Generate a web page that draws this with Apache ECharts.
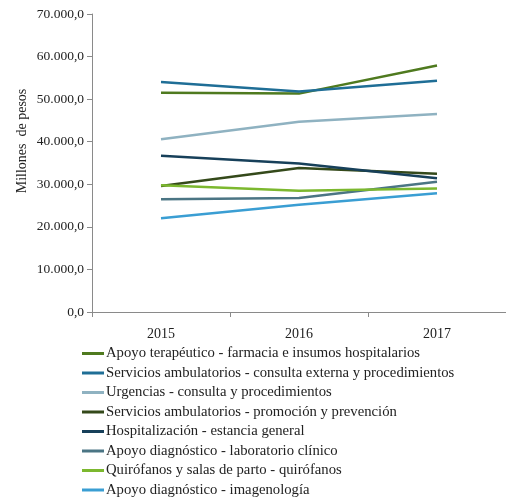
<!DOCTYPE html>
<html><head><meta charset="utf-8">
<script src="https://cdn.jsdelivr.net/npm/echarts@6/dist/echarts.min.js"></script>
<style>html,body{margin:0;padding:0;background:#fff}#c{width:506px;height:501px}</style>
</head><body><div id="c"></div>
<script>
const years = ['2015', '2016', '2017'];
const seriesNames = [
  'Apoyo terapéutico - farmacia e insumos hospitalarios',
  'Servicios ambulatorios - consulta externa y procedimientos',
  'Urgencias - consulta y procedimientos',
  'Servicios ambulatorios - promoción y prevención',
  'Hospitalización - estancia general',
  'Apoyo diagnóstico - laboratorio clínico',
  'Quirófanos y salas de parto - quirófanos',
  'Apoyo diagnóstico - imagenología'
];
const farmacia = [51500, 51300, 57900];
const consultaExterna = [54000, 51800, 54300];
const urgencias = [40600, 44700, 46500];
const promocion = [29600, 33800, 32500];
const hospitalizacion = [36700, 34900, 31400];
const laboratorio = [26500, 26800, 30600];
const quirofanos = [29800, 28500, 29000];
const imagenologia = [22000, 25200, 27900];
const yTicks = [0, 10000, 20000, 30000, 40000, 50000, 60000, 70000];
const yTitle = 'Millones  de pesos';

const allData = [farmacia, consultaExterna, urgencias, promocion, hospitalizacion, laboratorio, quirofanos, imagenologia];
const colors = ['#4f7a1f', '#1f6e96', '#8fb2c1', '#34491a', '#17405a', '#4b7584', '#7cb82f', '#3a9ed3'];

function fmt(v){
  const s = Math.round(v).toString().replace(/\B(?=(\d{3})+(?!\d))/g, '.');
  return s + ',0';
}

const chart = echarts.init(document.getElementById('c'), null, {renderer:'canvas'});
chart.setOption({
  animation: false,
  color: colors,
  textStyle: {fontFamily: 'Liberation Serif'},
  grid: {left: 92, right: -3, top: 14, bottom: 189},
  legend: {
    orient: 'vertical', left: 82, top: 346, padding: 0, height: 170,
    itemWidth: 22, itemHeight: 3, itemGap: 4.5, icon: 'rect',
    textStyle: {fontFamily: 'Liberation Serif', fontSize: 14.7, color: '#222', padding: [0,0,0,-3]},
    data: seriesNames
  },
  graphic: [{
    type: 'text', x: 22, y: 141, rotation: Math.PI / 2,
    style: {text: yTitle, fontFamily: 'Liberation Serif', fontSize: 14, fill: '#222', align: 'center', verticalAlign: 'middle'}
  }],
  xAxis: {
    type: 'category', data: years, boundaryGap: true,
    axisLine: {lineStyle: {color: '#8a8a8a'}},
    axisTick: {show: true, length: 5, lineStyle: {color: '#8a8a8a'}},
    axisLabel: {fontFamily: 'Liberation Serif', fontSize: 14, color: '#222', margin: 15}
  },
  yAxis: {
    type: 'value', min: yTicks[0], max: yTicks[yTicks.length-1], interval: 10000,
    axisLine: {show: true, lineStyle: {color: '#8a8a8a'}},
    axisTick: {show: true, length: 5, inside: false, lineStyle: {color: '#8a8a8a'}},
    splitLine: {show: false},
    axisLabel: {fontFamily: 'Liberation Serif', fontSize: 13.5, color: '#222', margin: 8, formatter: fmt}
  },
  series: seriesNames.map((n, i) => ({
    name: n, type: 'line', data: allData[i], symbol: 'none',
    lineStyle: {width: 2.5, color: colors[i]}, itemStyle: {color: colors[i]}
  }))
});
</script></body></html>
